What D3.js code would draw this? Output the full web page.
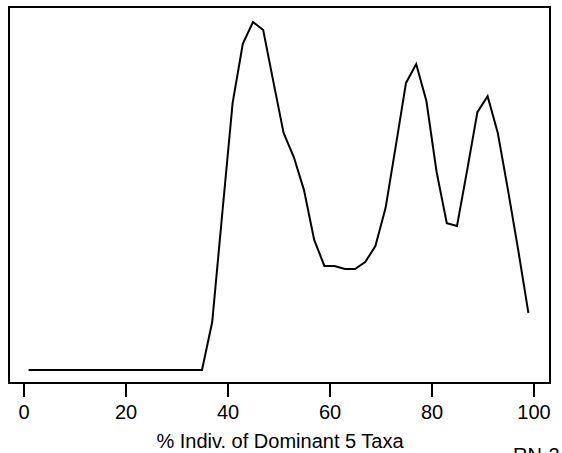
<!DOCTYPE html>
<html>
<head>
<meta charset="utf-8">
<script src="https://cdn.jsdelivr.net/npm/d3@7"></script>
<style>
  html, body { margin: 0; padding: 0; background: #fff; overflow: hidden; }
  text { font-family: "Liberation Sans", Arial, sans-serif; fill: #000; }
</style>
</head>
<body>
<div id="chart"></div>
<script>
// % individuals of dominant 5 taxa (x) and relative density (y)
const pctValues = [1, 3, 5, 7, 9, 11, 13, 15, 17, 19, 21, 23, 25, 27, 29, 31, 33, 35,
    37, 39, 41, 43, 45, 47, 49, 51, 53, 55, 57, 59, 61, 63, 65, 67, 69, 71, 73, 75,
    77, 79, 81, 83, 85, 87, 89, 91, 93, 95, 97, 99];
const densityValues = [0, 0, 0, 0, 0, 0, 0, 0, 0, 0, 0, 0, 0, 0, 0, 0, 0, 0,
    0.138, 0.454, 0.767, 0.937, 1.0, 0.977, 0.828, 0.681, 0.612, 0.517, 0.374, 0.299,
    0.299, 0.290, 0.290, 0.310, 0.356, 0.466, 0.644, 0.825, 0.879, 0.773, 0.569,
    0.422, 0.414, 0.575, 0.741, 0.787, 0.681, 0.517, 0.345, 0.164];
const xTicks = [0, 20, 40, 60, 80, 100];
const xLabel = '% Indiv. of Dominant 5 Taxa';
const cornerLabel = 'RN-2';

const width = 562, height = 453;

const svg = d3.select('#chart')
    .append('svg')
    .attr('width', width)
    .attr('height', height);

// plot box
const box = { left: 9, top: 7, right: 550, bottom: 383 };

const x = d3.scaleLinear().domain([0, 100]).range([23.5, 533.5]);
const y = d3.scaleLinear().domain([0, 1]).range([370, 22]);

svg.append('rect')
    .attr('x', box.left)
    .attr('y', box.top)
    .attr('width', box.right - box.left)
    .attr('height', box.bottom - box.top)
    .attr('fill', 'none')
    .attr('stroke', '#000')
    .attr('stroke-width', 2);

// x axis
const axis = svg.append('g')
    .attr('transform', `translate(0,${box.bottom})`)
    .call(d3.axisBottom(x).tickValues(xTicks).tickSize(14).tickPadding(8));

axis.select('.domain').remove();
axis.selectAll('line').attr('stroke', '#000').attr('stroke-width', 2);
axis.selectAll('text')
    .style('font-family', '"Liberation Sans", Arial, sans-serif')
    .style('font-size', '20px')
    .attr('fill', '#000');

// density line
const line = d3.line()
    .x((d, i) => x(pctValues[i]))
    .y(d => y(d));

svg.append('path')
    .datum(densityValues)
    .attr('d', line)
    .attr('fill', 'none')
    .attr('stroke', '#000')
    .attr('stroke-width', 2)
    .attr('stroke-linejoin', 'miter');

// labels
svg.append('text')
    .attr('x', 280)
    .attr('y', 448)
    .attr('text-anchor', 'middle')
    .style('font-size', '20px')
    .text(xLabel);

// corner tag, partly below the page edge as in the original
svg.append('text')
    .attr('x', 513)
    .attr('y', 462)
    .style('font-size', '20px')
    .text(cornerLabel);
</script>
</body>
</html>
